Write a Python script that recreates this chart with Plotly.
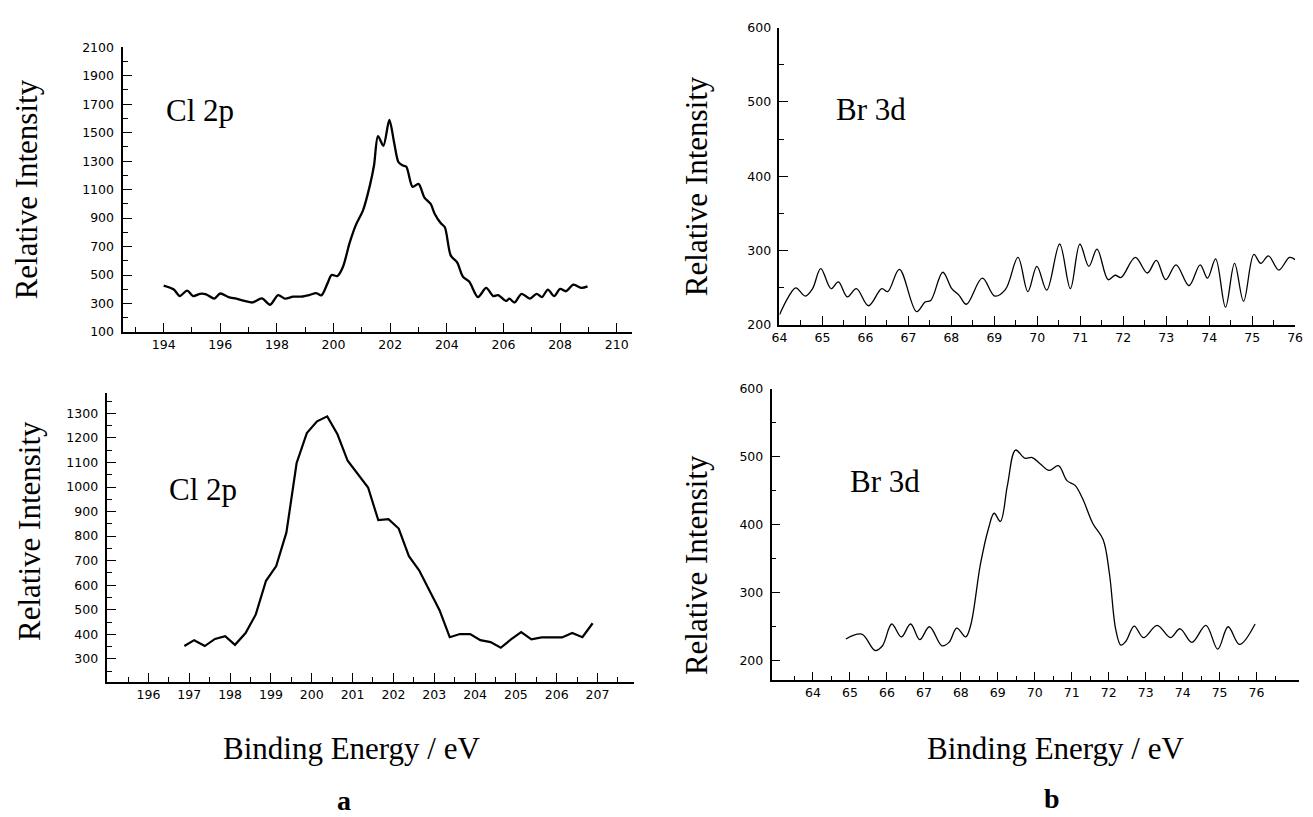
import plotly.graph_objects as go

W, H = 1313, 817

# ---------------- data ----------------
cl_top_x = [194.0, 194.36, 194.57, 194.83, 195.04, 195.29, 195.5, 195.79, 196.0, 196.29, 196.57, 196.86,
            197.14, 197.47, 197.76, 198.04, 198.29, 198.57, 198.86, 199.14, 199.39, 199.57, 199.79, 199.93,
            200.14, 200.33, 200.57, 200.79, 201.04, 201.29, 201.43, 201.57, 201.76, 201.97, 202.14, 202.29,
            202.43, 202.57, 202.79, 203.0, 203.21, 203.43, 203.57, 203.79, 203.93, 204.14, 204.36, 204.57,
            204.79, 205.1, 205.39, 205.64, 205.81, 206.1, 206.21, 206.39, 206.64, 206.93, 207.17, 207.36,
            207.57, 207.79, 208.0, 208.21, 208.47, 208.76, 208.97]
cl_top_y = [425, 398, 352, 391, 352, 368, 364, 334, 370, 345, 334, 318,
            307, 336, 291, 359, 334, 348, 348, 359, 373, 357, 443, 500,
            493, 556, 727, 852, 954, 1135, 1271, 1476, 1408, 1589, 1430, 1294,
            1271, 1260, 1119, 1140, 1044, 999, 931, 863, 836, 636, 590, 488,
            454, 345, 409, 352, 359, 318, 334, 307, 368, 334, 368, 345,
            398, 352, 402, 386, 432, 409, 420]

cl_bot_x = [196.88, 197.12, 197.38, 197.63, 197.88, 198.12, 198.38, 198.63, 198.88, 199.13, 199.38,
            199.63, 199.88, 200.13, 200.38, 200.63, 200.88, 201.13, 201.38, 201.63, 201.88, 202.13,
            202.38, 202.63, 202.88, 203.13, 203.38, 203.63, 203.88, 204.13, 204.38, 204.63, 204.88,
            205.13, 205.38, 205.63, 205.88, 206.13, 206.38, 206.63, 206.88]
cl_bot_y = [352, 376, 352, 381, 392, 357, 405, 481, 618, 678, 815,
            1098, 1220, 1268, 1288, 1215, 1107, 1054, 998, 865, 869, 831,
            718, 661, 578, 498, 388, 401, 401, 376, 368, 345, 379,
            409, 379, 387, 387, 387, 405, 388, 445]

br_top_x = [64.0, 64.21, 64.38, 64.6, 64.77, 64.96, 65.2, 65.37, 65.58, 65.79, 66.07, 66.38, 66.52,
            66.79, 67.19, 67.39, 67.52, 67.8, 68.01, 68.18, 68.35, 68.72, 69.01, 69.26, 69.55, 69.78,
            69.99, 70.22, 70.52, 70.77, 70.99, 71.2, 71.39, 71.65, 71.81, 71.95, 72.28, 72.56, 72.77,
            72.99, 73.23, 73.53, 73.79, 73.96, 74.15, 74.38, 74.59, 74.8, 75.04, 75.2, 75.38, 75.62,
            75.87, 76.0]
br_top_y = [214, 238, 250, 239, 249, 276, 249, 258, 238, 249, 226, 249, 245,
            275, 218, 231, 233, 271, 249, 240, 228, 263, 239, 248, 291, 245,
            279, 247, 309, 249, 309, 279, 302, 261, 267, 264, 291, 270, 287,
            261, 281, 253, 281, 263, 289, 224, 283, 232, 295, 283, 293, 274,
            291, 288]

br_bot_x = [64.89, 65.32, 65.68, 65.88, 66.13, 66.39, 66.64, 66.89, 67.15, 67.49, 67.68, 67.89, 68.13,
            68.27, 68.53, 68.75, 68.9, 69.07, 69.26, 69.48, 69.73, 69.93, 70.16, 70.39, 70.64, 70.87,
            71.09, 71.29, 71.57, 71.85, 72.02, 72.19, 72.33, 72.47, 72.69, 72.94, 73.31, 73.67, 73.93,
            74.25, 74.63, 74.95, 75.23, 75.54, 75.96]
br_bot_y = [232, 239, 215, 222, 254, 235, 254, 231, 250, 222, 227, 248, 235,
            253, 342, 395, 417, 405, 458, 510, 498, 499, 489, 480, 487, 465,
            458, 439, 402, 378, 328, 246, 223, 229, 251, 234, 252, 234, 247,
            227, 252, 217, 250, 224, 254]

cl_top_xticks = [194, 196, 198, 200, 202, 204, 206, 208, 210]
cl_top_yticks = [100, 300, 500, 700, 900, 1100, 1300, 1500, 1700, 1900, 2100]
cl_bot_xticks = [196, 197, 198, 199, 200, 201, 202, 203, 204, 205, 206, 207]
cl_bot_yticks = [300, 400, 500, 600, 700, 800, 900, 1000, 1100, 1200, 1300]
br_xticks = [64, 65, 66, 67, 68, 69, 70, 71, 72, 73, 74, 75, 76]
br_yticks = [200, 300, 400, 500, 600]

# ---------------- figure ----------------
def px_x(p):
    return p / W

def px_y(p):
    return 1 - p / H

fig = go.Figure()

fig.add_trace(go.Scatter(x=cl_top_x, y=cl_top_y, mode="lines", xaxis="x", yaxis="y",
                         line=dict(color="black", width=2.3, shape="spline", smoothing=0.8)))
fig.add_trace(go.Scatter(x=cl_bot_x, y=cl_bot_y, mode="lines", xaxis="x2", yaxis="y2",
                         line=dict(color="black", width=2.2)))
fig.add_trace(go.Scatter(x=br_top_x, y=br_top_y, mode="lines", xaxis="x3", yaxis="y3",
                         line=dict(color="black", width=1.3, shape="spline", smoothing=1.0)))
fig.add_trace(go.Scatter(x=br_bot_x, y=br_bot_y, mode="lines", xaxis="x4", yaxis="y4",
                         line=dict(color="black", width=1.3, shape="spline", smoothing=1.0)))

tickfont = dict(family="DejaVu Sans, Arial, sans-serif", size=12.5, color="black")


def xax(domain, rng, tickvals, minor_vals, anchor, lw):
    return dict(domain=domain, range=rng, anchor=anchor, tickmode="array", tickvals=tickvals,
                showline=True, linecolor="black", linewidth=lw, ticks="inside", ticklen=9,
                tickwidth=1.3, tickcolor="black", showgrid=False, zeroline=False,
                tickfont=tickfont, fixedrange=True,
                minor=dict(tickmode="array", tickvals=minor_vals, ticks="inside", ticklen=5,
                           tickwidth=1.2, tickcolor="black", showgrid=False))


def yax(domain, rng, tickvals, minor_vals, anchor, lw):
    return dict(domain=domain, range=rng, anchor=anchor, tickmode="array", tickvals=tickvals,
                showline=True, linecolor="black", linewidth=lw, ticks="inside", ticklen=9,
                tickwidth=1.3, tickcolor="black", showgrid=False, zeroline=False,
                tickfont=tickfont, fixedrange=True, ticklabelstandoff=4,
                minor=dict(tickmode="array", tickvals=minor_vals, ticks="inside", ticklen=5,
                           tickwidth=1.2, tickcolor="black", showgrid=False))


cl_top_minor_x = [193 + 2 * i for i in range(9)]
cl_top_minor_y = [200 + 200 * i for i in range(10)]
cl_bot_minor_x = [195 + 0.5 * i for i in range(26)]
cl_bot_minor_y = [250 + 50 * i for i in range(23) if (250 + 50 * i) % 100 != 0]
br_minor_x = [62.5 + 0.5 * i for i in range(30) if (62.5 + 0.5 * i) % 1 != 0]
br_minor_y = [150 + 100 * i for i in range(5)]

fig.update_layout(
    width=W, height=H, autosize=False,
    margin=dict(l=0, r=0, t=0, b=0),
    paper_bgcolor="white", plot_bgcolor="white",
    showlegend=False,
    xaxis=xax([px_x(116), px_x(632)], [192.55, 210.55], cl_top_xticks, cl_top_minor_x, "y", 2.2),
    yaxis=yax([px_y(330), px_y(40)], [100, 2100], cl_top_yticks, cl_top_minor_y, "x", 2.2),
    xaxis2=xax([px_x(100), px_x(634)], [194.98, 207.9], cl_bot_xticks, cl_bot_minor_x, "y2", 2.2),
    yaxis2=yax([px_y(687), px_y(392)], [204, 1384], cl_bot_yticks, cl_bot_minor_y, "x2", 2.2),
    xaxis3=xax([px_x(781), px_x(1303)], [64, 76], br_xticks, br_minor_x, "y3", 1.6),
    yaxis3=yax([px_y(323), px_y(20)], [200, 600], br_yticks, br_minor_y, "x3", 1.6),
    xaxis4=xax([px_x(773), px_x(1307)], [62.88, 77.15], br_xticks, br_minor_x, "y4", 1.6),
    yaxis4=yax([px_y(685), px_y(388)], [171, 600], br_yticks, br_minor_y, "x4", 1.6),
)

serif = "Liberation Serif, Times New Roman, serif"
annos = []


def ann(text, x, y, size, angle=0, bold=False):
    annos.append(dict(text=("<b>%s</b>" % text) if bold else text, x=px_x(x), y=px_y(y),
                      xref="paper", yref="paper", showarrow=False, textangle=angle,
                      xanchor="center", yanchor="middle",
                      font=dict(family=serif, size=size, color="black")))


ann("Relative Intensity", 19, 185, 31, -90)
ann("Relative Intensity", 21, 533, 31, -90)
ann("Relative Intensity", 697, 182, 31, -90)
ann("Relative Intensity", 697, 568, 31, -90)
ann("Cl 2p", 194, 104, 31)
ann("Cl 2p", 197, 490, 31)
ann("Br 3d", 874, 103, 31)
ann("Br 3d", 888, 482, 31)
ann("Binding Energy / eV", 348, 754, 31)
ann("Binding Energy / eV", 1060, 754, 31)
ann("a", 340, 807, 28, bold=True)
ann("b", 1057, 805, 28, bold=True)

fig.update_layout(annotations=annos)

fig.write_html("out.html", config={"displayModeBar": False},
               post_script="document.body.style.margin='0';document.body.style.overflow='hidden';")
